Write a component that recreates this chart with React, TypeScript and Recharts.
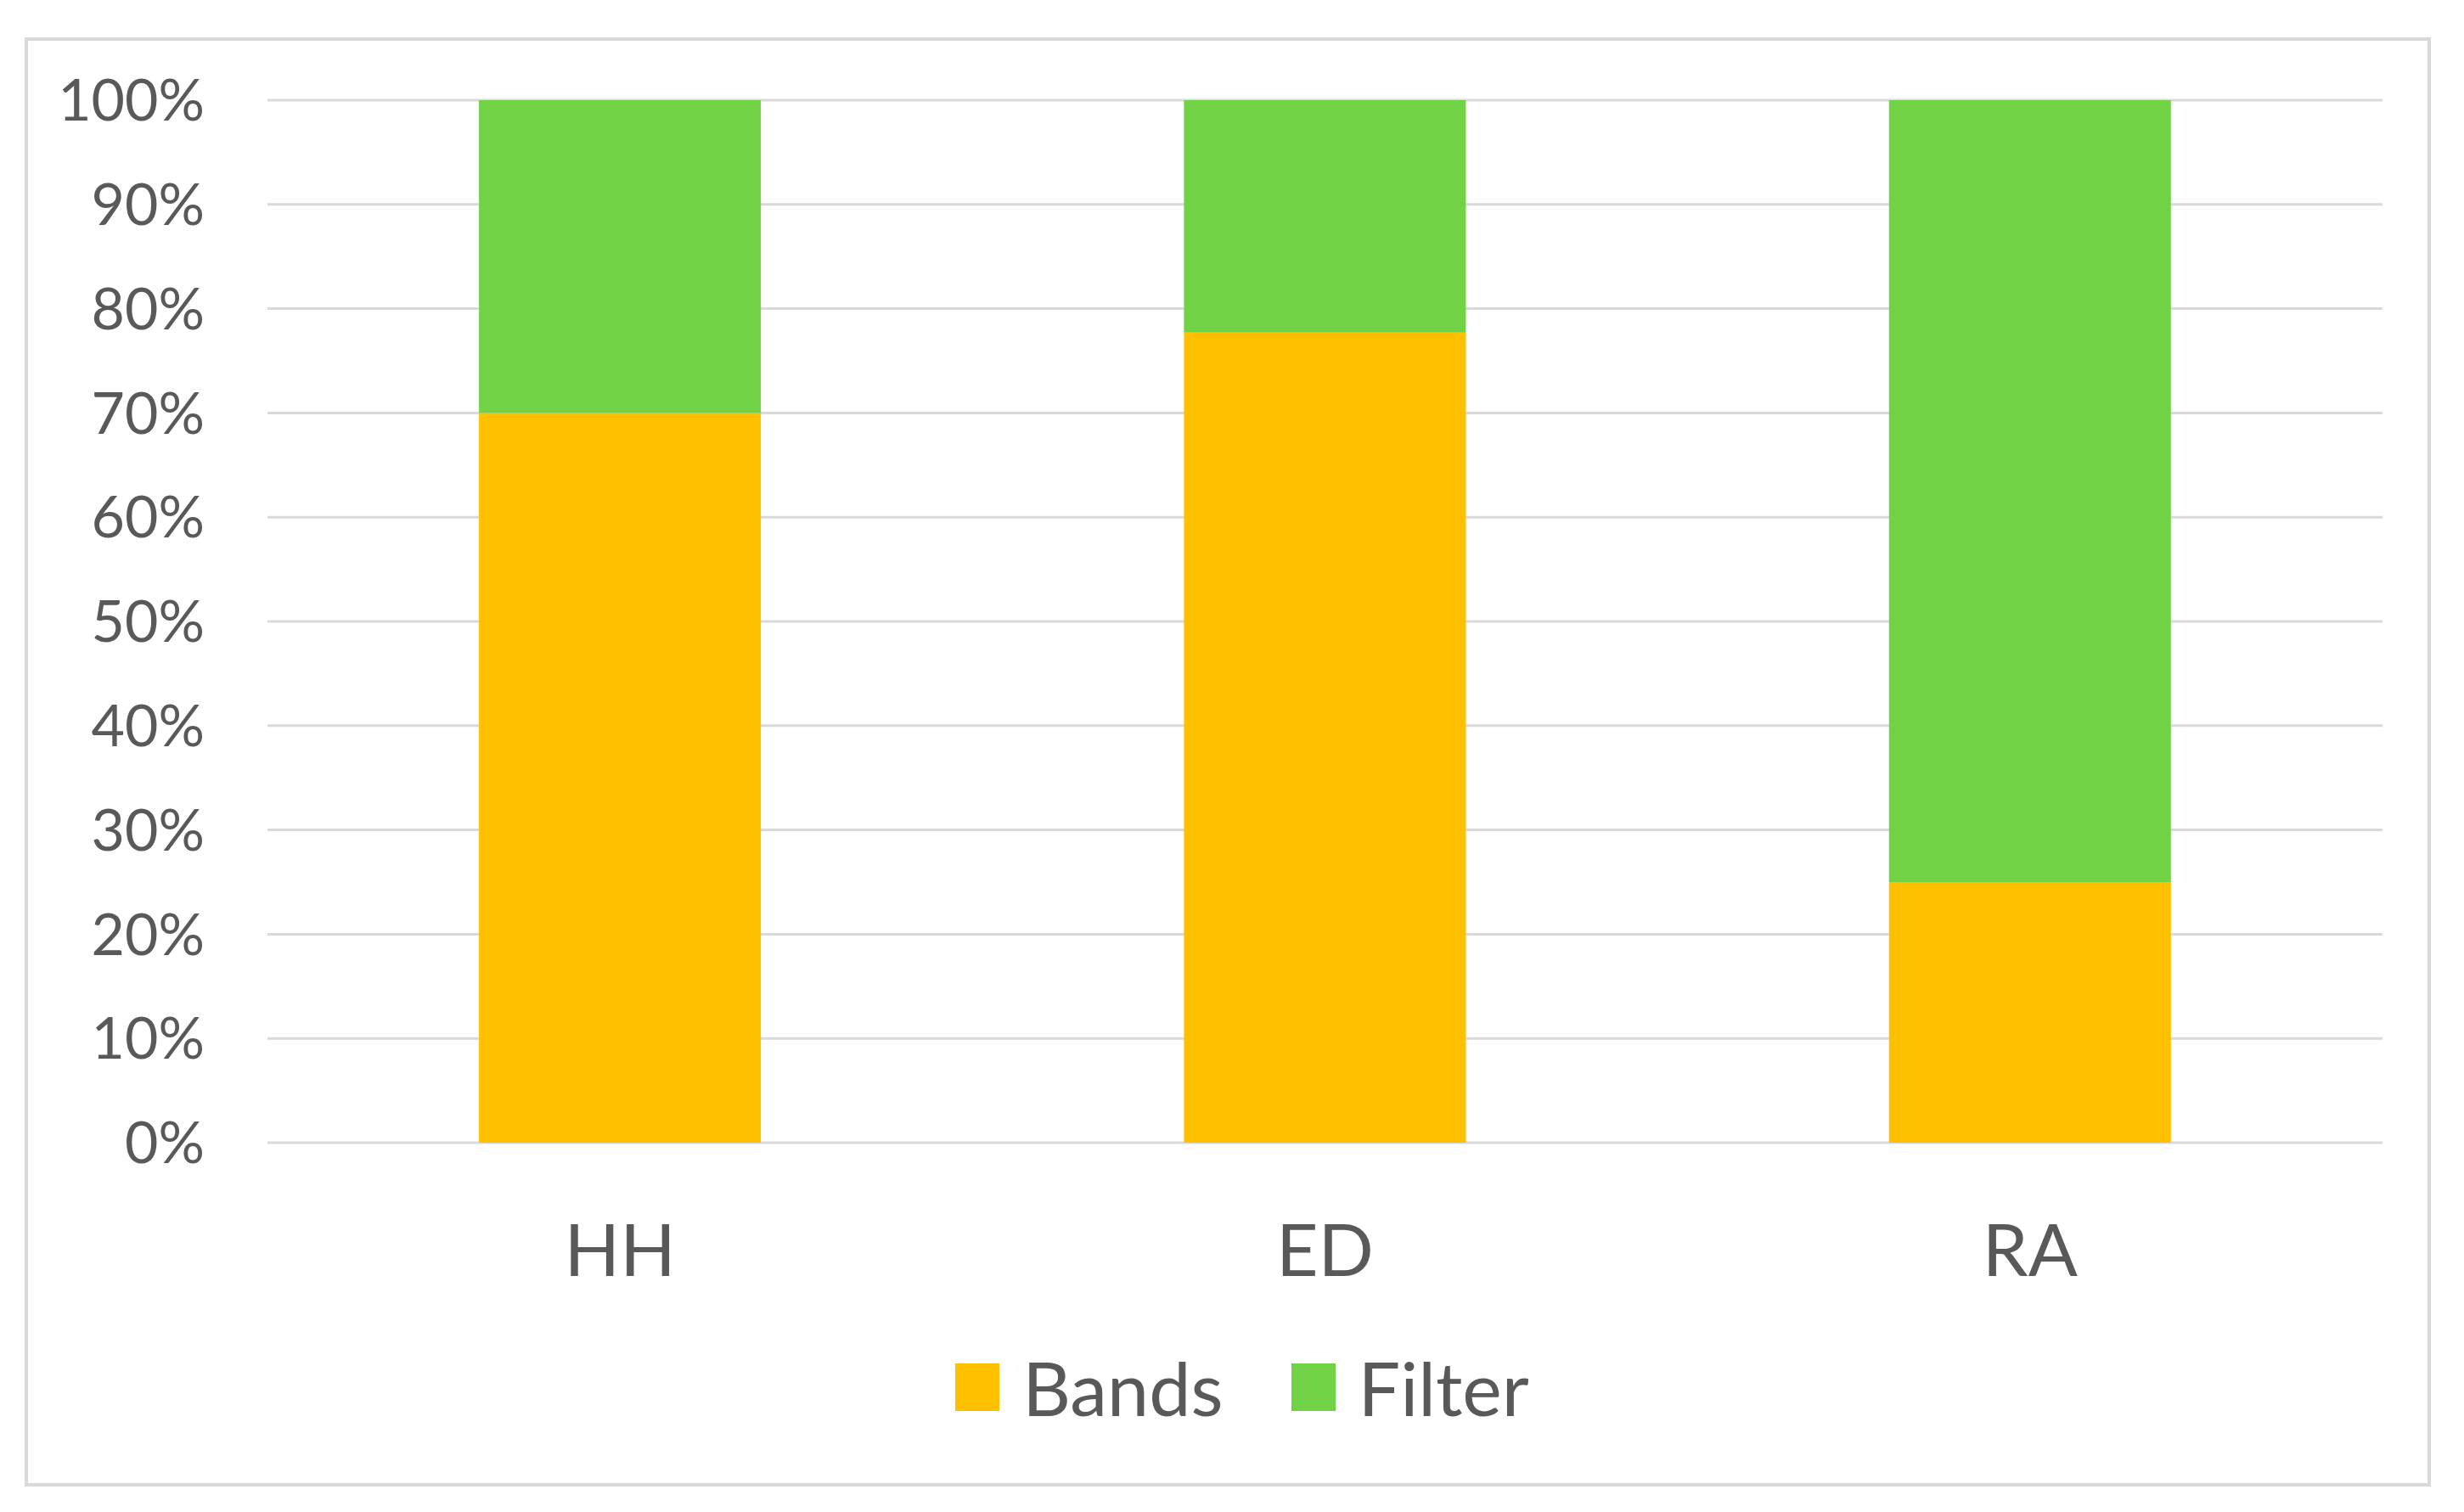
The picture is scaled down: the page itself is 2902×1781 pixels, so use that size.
import React from 'react';
import { Bar, BarChart, CartesianGrid, Legend, XAxis, YAxis } from 'recharts';

// Stacked 100% column chart (Excel-like): Bands vs Filter per method.
const TEXT = '#595959';
const GRID = '#D9D9D9';
const BANDS_COLOR = '#FFC000';
const FILTER_COLOR = '#70D244';
const FONT = 'Lato, "Open Sans", sans-serif';

const categories = ['HH', 'ED', 'RA'];
const bands = [70, 77.7, 25];
const filter = [30, 22.3, 75];
const yTicks = [0, 10, 20, 30, 40, 50, 60, 70, 80, 90, 100];

const data = categories.map((name, i) => ({ name, Bands: bands[i], Filter: filter[i] }));

const seriesList = [
  { key: 'Bands', color: BANDS_COLOR },
  { key: 'Filter', color: FILTER_COLOR },
];

function ChartLegend() {
  return (
    <div style={{ display: 'flex', justifyContent: 'center', alignItems: 'center', fontFamily: FONT }}>
      {seriesList.map((s, i) => (
        <div key={s.key} style={{ display: 'flex', alignItems: 'center', marginLeft: i ? 80 : 0 }}>
          <span style={{ display: 'inline-block', width: 52, height: 56, background: s.color, marginRight: 27 }} />
          <span style={{ fontSize: 88, color: TEXT, lineHeight: 1 }}>{s.key}</span>
        </div>
      ))}
    </div>
  );
}

export default function App() {
  return (
    <div style={{ position: 'absolute', left: 0, top: 0, width: 2902, height: 1781, background: '#fff' }}>
      <div
        style={{
          position: 'absolute',
          left: 29,
          top: 44,
          width: 2826,
          height: 1699,
          border: `4px solid ${GRID}`,
        }}
      />
      <div style={{ position: 'absolute', left: 0, top: 0 }}>
        <BarChart
          width={2902}
          height={1781}
          data={data}
          margin={{ top: 118, right: 96, bottom: 235, left: 115 }}
          barCategoryGap="30%"
        >
          <CartesianGrid horizontal vertical={false} stroke={GRID} strokeWidth={3} />
          <XAxis
            dataKey="name"
            axisLine={false}
            tickLine={false}
            tickSize={0}
            tickMargin={96}
            height={200}
            tick={{ fontSize: 86, fontFamily: FONT, fill: TEXT }}
          />
          <YAxis
            type="number"
            domain={[0, 100]}
            ticks={yTicks}
            width={200}
            axisLine={false}
            tickLine={false}
            tickSize={0}
            tickMargin={74}
            tickFormatter={(v: number) => `${v}%`}
            tick={{ fontSize: 68, fontFamily: FONT, fill: TEXT }}
          />
          <Legend
            layout="horizontal"
            align="center"
            verticalAlign="middle"
            content={<ChartLegend />}
            wrapperStyle={{ position: 'absolute', left: 31, width: 2864, top: 1590, bottom: 'auto' }}
          />
          {seriesList.map((s) => (
            <Bar key={s.key} dataKey={s.key} stackId="a" fill={s.color} isAnimationActive={false} />
          ))}
        </BarChart>
      </div>
    </div>
  );
}
